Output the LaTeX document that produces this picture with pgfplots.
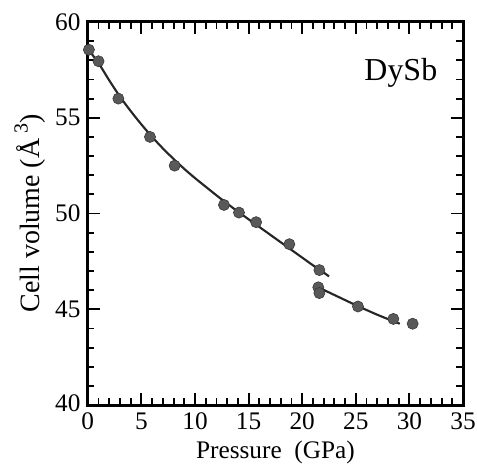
\documentclass[border=0pt]{standalone}
\usepackage{pgfplots}
\pgfplotsset{compat=1.18}
\usepackage{fontspec}
\setmainfont{Liberation Serif}
\begin{document}
\begin{tikzpicture}
\begin{axis}[
  width=282pt, height=288pt, scale only axis,
  xmin=0, xmax=35, ymin=40, ymax=60,
  xtick={0,5,...,35}, ytick={40,45,...,60},
  yticklabels={\raisebox{3pt}{40},45,50,55,60},
  minor x tick num=4, minor y tick num=4,
  tick align=inside,
  major tick length=9pt, minor tick length=5pt,
  axis line style={line width=2.3pt},
  every tick/.style={line width=1.4pt, black},
  /pgf/number format/assume math mode=true,
  tick label style={font=\fontsize{19}{19}\selectfont, inner sep=1pt},
  xlabel={Pressure\ \ (GPa)},
  ylabel={Cell volume (Å\,\raisebox{0.9ex}{\fontsize{15}{15}\selectfont 3})},
  xticklabel style={yshift=-4.3pt},
  yticklabel style={xshift=-4.3pt},
  xlabel style={yshift=-4pt, font=\fontsize{19}{19}\selectfont},
  ylabel style={yshift=3pt, font=\fontsize{21}{21}\selectfont},
  clip=false,
]
% fitted curve, low-pressure phase
\addplot[line width=1.6pt, black!85, smooth] coordinates {
(0,58.6) (1,57.85) (2,56.95) (3,56.1) (4,55.35) (5,54.65) (6,54.0) (7,53.4)
(8,52.85) (9,52.33) (10,51.85) (11,51.4) (12,50.95) (13,50.52) (14,50.1)
(15,49.7) (16,49.3) (17,48.9) (18,48.5) (19,48.1) (20,47.7) (21,47.3)
(22,46.92) (22.5,46.72)
};
% fitted curve, high-pressure part
\addplot[line width=1.6pt, black!85, smooth] coordinates {
(21.5,46.15) (23,45.75) (25,45.22) (27,44.72) (29.1,44.25)
};
% data points
\addplot[only marks, mark=*, mark size=4.2pt, mark options={draw=black!80, fill=black!65}] coordinates {
(0.1,58.55) (1.0,57.95) (2.85,56.0) (5.8,54.0) (8.1,52.5) (12.7,50.45)
(14.1,50.05) (15.7,49.55) (18.8,48.4) (21.6,47.05) (21.5,46.15) (21.6,45.85)
(25.2,45.15) (28.5,44.5) (30.3,44.25)
};
\node[font=\fontsize{24}{24}\selectfont] at (axis cs:29.2,57.35) {DySb};
\end{axis}
\path (current axis.south west) ++(-66pt,-51.75pt) coordinate (bl);
\path (current axis.north east) ++(9.75pt,16.5pt) coordinate (tr);
\path (bl) rectangle (tr);
\end{tikzpicture}
\end{document}
